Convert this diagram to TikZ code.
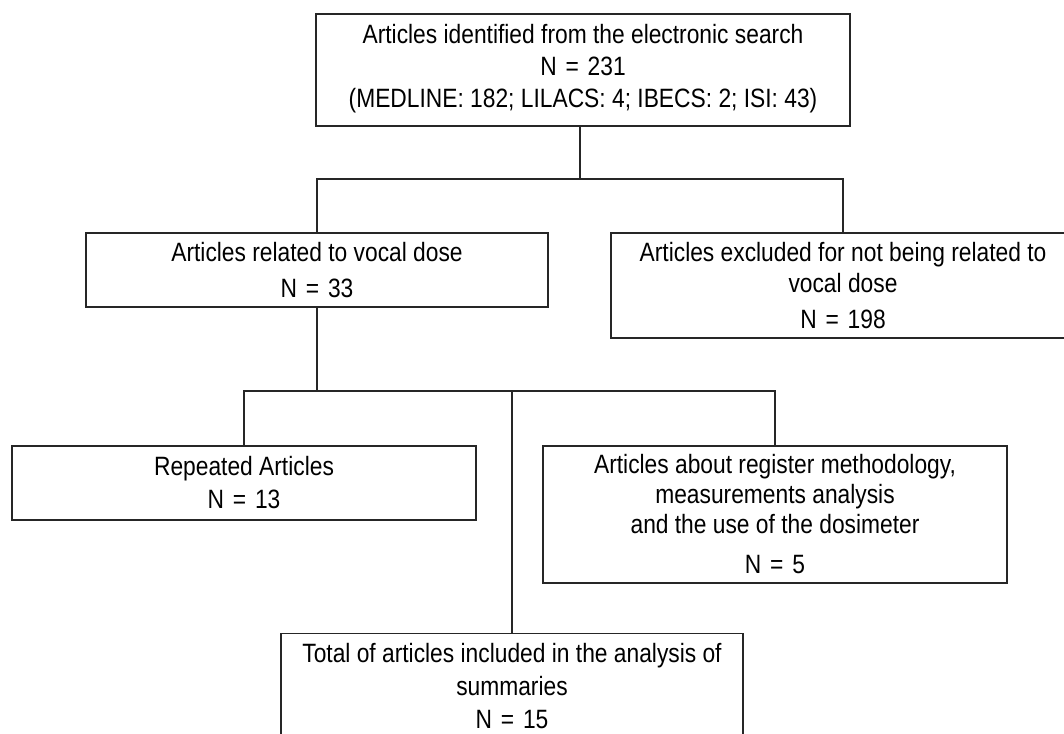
\documentclass[tikz,border=0pt]{standalone}
\usepackage{fontspec}
\setmainfont{Liberation Sans}[FakeStretch=0.86]
\newcommand{\eqsign}{\,\,=\,\,}
\begin{document}
\begin{tikzpicture}[x=1pt,y=-1pt,
  box/.style={draw=black!85, line width=1.1pt, align=center, inner sep=0pt,
    font=\fontsize{26.5}{31}\selectfont},
  link/.style={draw=black!85, line width=1.1pt}]
\clip (0,0) rectangle (1064,733);
\useasboundingbox (0,0) rectangle (1064,733);

\node[box, minimum width=534, minimum height=112] (top) at (583,70)
  {Articles identified from the electronic search\\[1pt] N\eqsign 231\\[1pt] (MEDLINE: 182; LILACS: 4; IBECS: 2; ISI: 43)\\[-22pt]\mbox{}};
\node[box, minimum width=462, minimum height=74] (mid) at (317,270)
  {Articles related to vocal dose\\[5pt] N\eqsign 33};
\node[box, minimum width=464, minimum height=105] (excl) at (843,285.5)
  {Articles excluded for not being related to\\ vocal dose\\[5pt] N\eqsign 198};
\node[box, minimum width=464, minimum height=74] (rep) at (244,483)
  {Repeated Articles\\[2pt] N\eqsign 13};
\node[box, minimum width=464, minimum height=137] (reg) at (775,514.5)
  {Articles about register methodology,\\[-1pt] measurements analysis\\[-1pt] and the use of the dosimeter\\[9pt] N\eqsign 5};
\node[box, minimum width=462, minimum height=105, anchor=north] (total) at (512,633)
  {Total of articles included in the analysis of\\[2pt] summaries\\[2pt] N\eqsign 15};

\coordinate (j1) at (580,179);
\coordinate (j2) at (317,391);
\draw[link] (top.south -| j1) -- (j1);
\draw[link] (mid.north) |- (j1) -| (excl.north);
\draw[link] (mid.south) -- (j2);
\draw[link] (rep.north) |- (j2) -| (reg.north);
\draw[link] (j2 -| total.north) -- (total.north);
\end{tikzpicture}
\end{document}
